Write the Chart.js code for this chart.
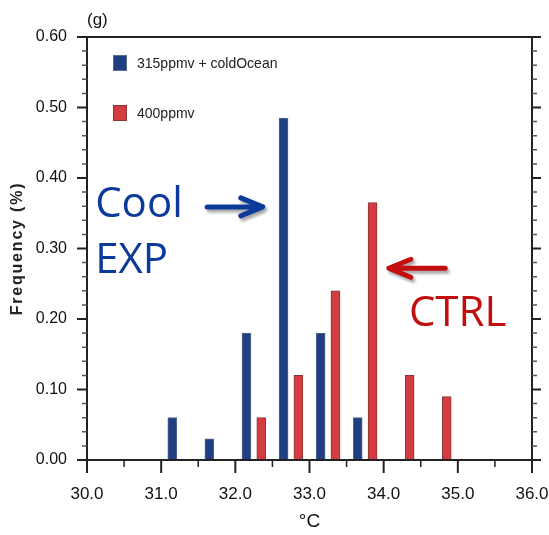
<!DOCTYPE html>
<html>
<head>
<meta charset="utf-8">
<script src="https://cdn.jsdelivr.net/npm/chart.js@4.4.1/dist/chart.umd.min.js"></script>
<style>
    html, body { margin: 0; padding: 0; background: #fff; }
</style>
</head>
<body>
<canvas id="histChart" width="549" height="535"></canvas>
<script>
// Werte
const coolBins = [31.15, 31.65, 32.15, 32.65, 33.15, 33.65];
const coolFreq = [0.06, 0.03, 0.18, 0.485, 0.18, 0.06];
const ctrlBins = [32.35, 32.85, 33.35, 33.85, 34.35, 34.85];
const ctrlFreq = [0.06, 0.12, 0.24, 0.365, 0.12, 0.09];
const xTicks = [30, 31, 32, 33, 34, 35, 36];
const yTicks = [0, 0.1, 0.2, 0.3, 0.4, 0.5, 0.6];
const seriesLabels = ['315ppmv + coldOcean', '400ppmv'];
const seriesColors = ['#1f3f82', '#d33c40'];
const seriesBorders = ['#5a6a8c', '#8c3434'];

// Beschriftungen im Diagramm (Datenkoordinaten)
const notes = [
    { text: 'Cool', x: 30.11, y: 0.345, color: '#0b3a9b' },
    { text: 'EXP', x: 30.11, y: 0.265, color: '#0b3a9b' },
    { text: 'CTRL', x: 34.34, y: 0.19, color: '#c20e0e' }
];
const arrows = [
    { from: [31.62, 0.359], to: [32.37, 0.359], color: '#0b3a9b' },
    { from: [34.83, 0.272], to: [34.07, 0.272], color: '#c20e0e' }
];

const SANS = "'Liberation Sans', Arial, sans-serif";
const AXIS = '#222';

const framePlugin = {
    id: 'frame',
    afterDraw(chart) {
        const ctx = chart.ctx;
        const a = chart.chartArea;
        const xs = chart.scales.x;
        const ys = chart.scales.y;
        ctx.save();
        ctx.strokeStyle = AXIS;
        ctx.lineCap = 'butt';

        // Rahmen
        ctx.lineWidth = 2;
        ctx.strokeRect(a.left, a.top, a.right - a.left, a.bottom - a.top);

        // y-Ticks links und rechts
        for (let i = 0; i < yTicks.length; i++) {
            const py = ys.getPixelForValue(yTicks[i]);
            ctx.lineWidth = 2;
            ctx.beginPath();
            ctx.moveTo(a.left - 10, py); ctx.lineTo(a.left, py);
            ctx.moveTo(a.right, py); ctx.lineTo(a.right + 9, py);
            ctx.stroke();
            if (i < yTicks.length - 1) {
                const step = (yTicks[i + 1] - yTicks[i]) / 5;
                ctx.lineWidth = 1.5;
                ctx.strokeStyle = '#555';
                ctx.beginPath();
                for (let k = 1; k < 5; k++) {
                    const my = ys.getPixelForValue(yTicks[i] + k * step);
                    ctx.moveTo(a.left - 5, my); ctx.lineTo(a.left, my);
                    ctx.moveTo(a.right, my); ctx.lineTo(a.right + 5, my);
                }
                ctx.stroke();
                ctx.strokeStyle = AXIS;
            }
        }

        // x-Ticks unten
        for (let i = 0; i < xTicks.length; i++) {
            const px = xs.getPixelForValue(xTicks[i]);
            ctx.lineWidth = 2;
            ctx.beginPath();
            ctx.moveTo(px, a.bottom); ctx.lineTo(px, a.bottom + 13);
            ctx.stroke();
            if (i < xTicks.length - 1) {
                const mx = xs.getPixelForValue((xTicks[i] + xTicks[i + 1]) / 2);
                ctx.lineWidth = 1.5;
                ctx.beginPath();
                ctx.moveTo(mx, a.bottom); ctx.lineTo(mx, a.bottom + 7);
                ctx.stroke();
            }
        }

        // Legende
        ctx.font = '14px ' + SANS;
        ctx.textBaseline = 'alphabetic';
        ctx.textAlign = 'left';
        seriesLabels.forEach((label, i) => {
            const top = a.top + 18 + i * 50;
            ctx.fillStyle = seriesColors[i];
            ctx.fillRect(a.left + 26, top, 14, 16);
            ctx.lineWidth = 1;
            ctx.strokeStyle = seriesBorders[i];
            ctx.strokeRect(a.left + 26.5, top + 0.5, 13, 15);
            ctx.fillStyle = '#222';
            ctx.fillText(label, a.left + 50, top + 13);
        });

        // Panel-Buchstabe
        ctx.font = '17px ' + SANS;
        ctx.fillStyle = '#111';
        ctx.fillText('(g)', a.left, 25);

        // y-Achsentitel
        ctx.save();
        ctx.translate(18, (a.top + a.bottom) / 2);
        ctx.rotate(-Math.PI / 2);
        ctx.font = 'bold 16px ' + SANS;
        ctx.letterSpacing = '1.8px';
        ctx.textAlign = 'center';
        ctx.textBaseline = 'middle';
        ctx.fillStyle = '#222';
        ctx.fillText('Frequency (%)', 0, 0);
        ctx.restore();

        // Texte
        ctx.font = '42px "Open Sans", sans-serif';
        ctx.textAlign = 'left';
        ctx.textBaseline = 'alphabetic';
        notes.forEach(n => {
            ctx.fillStyle = n.color;
            ctx.fillText(n.text, xs.getPixelForValue(n.x), ys.getPixelForValue(n.y));
        });

        // Pfeile
        arrows.forEach(ar => {
            const x0 = xs.getPixelForValue(ar.from[0]);
            const y0 = ys.getPixelForValue(ar.from[1]);
            const x1 = xs.getPixelForValue(ar.to[0]);
            const y1 = ys.getPixelForValue(ar.to[1]);
            const dir = Math.sign(x1 - x0);
            ctx.save();
            ctx.shadowColor = 'rgba(0,0,0,0.35)';
            ctx.shadowBlur = 3;
            ctx.shadowOffsetX = 2;
            ctx.shadowOffsetY = 3;
            ctx.strokeStyle = ar.color;
            ctx.lineWidth = 5;
            ctx.lineCap = 'round';
            ctx.lineJoin = 'round';
            ctx.beginPath();
            ctx.moveTo(x0, y0);
            ctx.lineTo(x1 - dir * 2, y1);
            ctx.moveTo(x1 - dir * 22, y1 - 9);
            ctx.lineTo(x1, y1);
            ctx.lineTo(x1 - dir * 22, y1 + 9);
            ctx.stroke();
            ctx.restore();
        });

        ctx.restore();
    }
};

const ctx = document.getElementById('histChart').getContext('2d');
new Chart(ctx, {
    type: 'bar',
    data: {
        datasets: [
            {
                label: seriesLabels[0],
                data: coolBins.map((b, i) => ({ x: b, y: coolFreq[i] })),
                backgroundColor: seriesColors[0],
                borderColor: seriesBorders[0],
                borderWidth: 1
            },
            {
                label: seriesLabels[1],
                data: ctrlBins.map((b, i) => ({ x: b, y: ctrlFreq[i] })),
                backgroundColor: seriesColors[1],
                borderColor: seriesBorders[1],
                borderWidth: 1
            }
        ]
    },
    options: {
        responsive: false,
        animation: false,
        barThickness: 9,
        grouped: false,
        layout: { padding: { top: 37, right: 17, left: 0, bottom: 0 } },
        scales: {
            x: {
                type: 'linear',
                min: 30,
                max: 36,
                offset: false,
                afterBuildTicks: s => { s.ticks = xTicks.map(v => ({ value: v })); },
                afterFit: s => { s.height = 75; s.paddingLeft = 0; s.paddingRight = 0; },
                grid: { display: false, drawTicks: false },
                border: { display: false },
                ticks: {
                    padding: 24,
                    maxRotation: 0,
                    autoSkip: false,
                    color: '#111',
                    font: { family: SANS, size: 17 },
                    callback: v => v.toFixed(1)
                },
                title: {
                    display: true,
                    text: '°C',
                    color: '#111',
                    font: { family: SANS, size: 19 },
                    padding: { top: 0, bottom: 2 }
                }
            },
            y: {
                min: 0,
                max: 0.6,
                afterBuildTicks: s => { s.ticks = yTicks.map(v => ({ value: v })); },
                afterFit: s => { s.width = 87; s.paddingTop = 0; s.paddingBottom = 0; },
                grid: { display: false, drawTicks: false },
                border: { display: false },
                ticks: {
                    padding: 20,
                    color: '#111',
                    font: { family: SANS, size: 16 },
                    callback: v => v.toFixed(2)
                }
            }
        },
        plugins: {
            legend: { display: false },
            tooltip: { enabled: false }
        }
    },
    plugins: [framePlugin]
});
</script>
</body>
</html>
